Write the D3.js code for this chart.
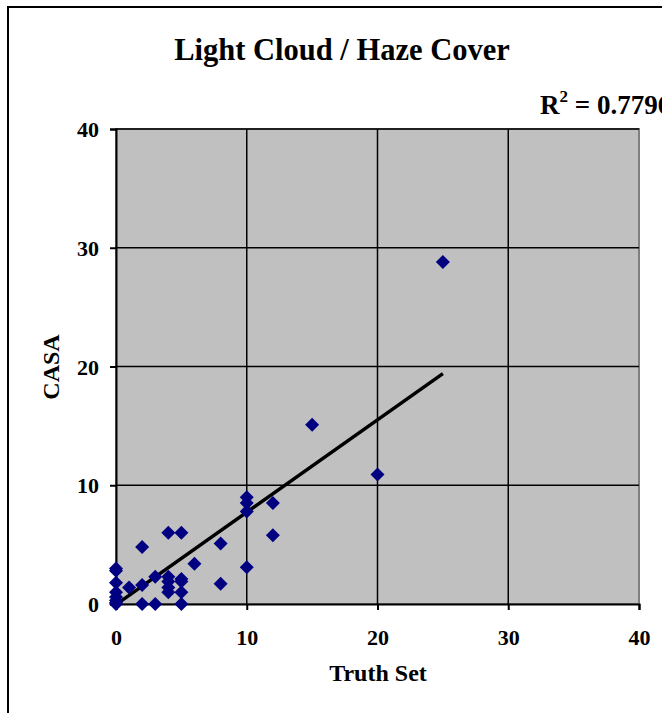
<!DOCTYPE html>
<html>
<head>
<meta charset="utf-8">
<script src="https://cdn.jsdelivr.net/npm/d3@7"></script>
<style>
  html, body { margin: 0; padding: 0; background: #fff; }
  svg { display: block; }
  text { font-family: "Liberation Serif", "Times New Roman", serif; font-weight: bold; fill: #000; }
</style>
</head>
<body>
<svg id="chart" width="662" height="713"></svg>
<script>
// ---- data ----
const truthSet = [0,0,0,0,0,0,0,0, 1, 2,2,2, 3,3, 4,4,4,4,4, 5,5,5,5,5, 6, 8,8, 10,10,10,10, 12,12, 15, 20, 25];
const casa     = [3.0,2.8,1.8,1.0,0.6,0.3,0.1,0, 1.4, 4.8,1.6,0, 2.3,0, 6.0,2.3,1.9,1.4,1.0, 6.0,2.1,1.9,1.0,0, 3.4, 5.1,1.7, 9.0,8.5,7.8,3.1, 8.5,5.8, 15.1, 10.9, 28.8];
const trendX = [0, 25];
const trendY = [-0.05, 19.4];
const xTicks = [0, 10, 20, 30, 40];
const yTicks = [0, 10, 20, 30, 40];
const titleText = "Light Cloud / Haze Cover";
const xLabel = "Truth Set";
const yLabel = "CASA";
const r2Value = "0.7796";

// ---- layout ----
const svg = d3.select("#chart");
const L = 116, R = 639, T = 129, B = 604;
const x = d3.scaleLinear().domain([0, 40]).range([L, R]);
const y = d3.scaleLinear().domain([0, 40]).range([B, T]);

svg.append("rect").attr("width", 662).attr("height", 713).attr("fill", "#fff");
// outer chart frame (extends beyond the picture on right/bottom)
svg.append("rect").attr("x", 8).attr("y", 7).attr("width", 700).attr("height", 760)
  .attr("fill", "none").attr("stroke", "#000").attr("stroke-width", 2);

// plot area
svg.append("rect").attr("x", L).attr("y", T).attr("width", R - L).attr("height", B - T)
  .attr("fill", "#c0c0c0").attr("stroke", "#808080").attr("stroke-width", 2);

// gridlines
const g = svg.append("g");
g.selectAll("line.gx").data(xTicks.filter(d => d > 0 && d < 40)).join("line")
  .attr("x1", d => x(d)).attr("x2", d => x(d)).attr("y1", T).attr("y2", B)
  .attr("stroke", "#000").attr("stroke-width", 1.5);
g.selectAll("line.gy").data(yTicks.filter(d => d > 0)).join("line")
  .attr("x1", L).attr("x2", R).attr("y1", d => y(d)).attr("y2", d => y(d))
  .attr("stroke", "#000").attr("stroke-width", 1.5);

// axes
const xAxis = d3.axisBottom(x).tickValues(xTicks).tickSize(6).tickPadding(19).tickFormat(d3.format("d"));
const yAxis = d3.axisLeft(y).tickValues(yTicks).tickSize(6).tickPadding(11).tickFormat(d3.format("d"));
const gx = svg.append("g").attr("transform", `translate(0,${B})`).call(xAxis);
const gy = svg.append("g").attr("transform", `translate(${L},0)`).call(yAxis);
[gx, gy].forEach(a => {
  a.select(".domain").attr("stroke", "#000").attr("stroke-width", 2);
  a.selectAll(".tick line").attr("stroke", "#000").attr("stroke-width", 2);
  a.selectAll(".tick text").attr("font-family", "Liberation Serif").attr("font-weight", "bold")
    .attr("font-size", 22).attr("fill", "#000");
});
gy.selectAll(".tick text").attr("dy", "0.35em");

// trendline
svg.append("line")
  .attr("x1", x(trendX[0])).attr("y1", y(trendY[0]))
  .attr("x2", x(trendX[1])).attr("y2", y(trendY[1]))
  .attr("stroke", "#000").attr("stroke-width", 3.5);

// points
const pts = truthSet.map((v, i) => ({ tx: v, cy: casa[i] }));
svg.append("g").selectAll("path").data(pts).join("path")
  .attr("d", "M0,-7L7,0L0,7L-7,0Z")
  .attr("transform", d => `translate(${x(d.tx)},${y(d.cy)})`)
  .attr("fill", "#000080");

// titles
svg.append("text").attr("x", 342).attr("y", 60).attr("text-anchor", "middle")
  .attr("font-size", 30.5).text(titleText);
svg.append("text").attr("x", 378).attr("y", 681).attr("text-anchor", "middle")
  .attr("font-size", 24).text(xLabel);
svg.append("text").attr("transform", "translate(59,367) rotate(-90)").attr("text-anchor", "middle")
  .attr("font-size", 24).text(yLabel);

// R^2 label
const r2 = svg.append("text").attr("x", 540).attr("y", 114).attr("font-size", 27);
r2.append("tspan").text("R");
r2.append("tspan").attr("font-size", 17).attr("dy", -12).text("2");
r2.append("tspan").attr("dy", 12).text(" = " + r2Value);
</script>
</body>
</html>
